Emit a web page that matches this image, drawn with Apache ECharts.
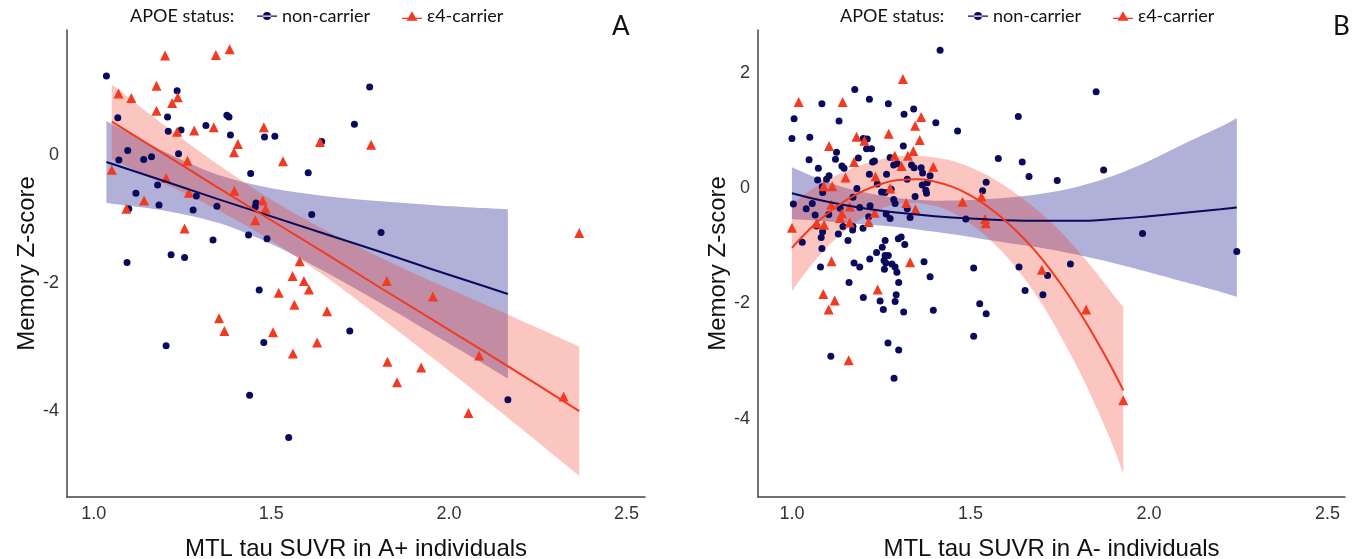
<!DOCTYPE html>
<html>
<head>
<meta charset="utf-8">
<script src="https://cdn.jsdelivr.net/npm/echarts@6.0.0/dist/echarts.min.js"></script>
<style>
  html, body { margin: 0; padding: 0; background: #fff; }
  #main { width: 1360px; height: 559px; }
</style>
</head>
<body>
<div id="main"></div>
<script>
// ---- data ----
// panel A (A+ individuals): [MTL tau SUVR, memory z]
var blueA = [
  [1.036,1.23],[1.235,1.00],[1.208,0.59],[1.375,0.62],[1.381,0.59],[1.068,0.58],[1.246,0.39],[1.210,0.37],
  [1.316,0.46],[1.385,0.31],[1.481,0.28],[1.510,0.29],[1.096,0.07],[1.071,-0.08],[1.141,-0.07],[1.163,-0.03],
  [1.239,0.02],[1.442,-0.29],[1.180,-0.47],[1.119,-0.60],[1.184,-0.78],[1.099,-0.84],[1.289,-0.64],[1.347,-0.80],
  [1.280,-0.86],[1.457,-0.75],[1.455,-0.81],[1.436,-1.25],[1.336,-1.33],[1.488,-1.31],[1.218,-1.56],[1.256,-1.60],
  [1.094,-1.68],[1.466,-2.11],[1.204,-2.98],[1.479,-2.93],[1.439,-3.75],[1.549,-4.41],[1.777,1.06],[1.734,0.48],
  [1.642,0.21],[1.604,-0.28],[1.614,-0.93],[1.809,-1.21],[1.721,-2.75],[2.166,-3.82]
];
var redA = [
  [1.201,1.55],[1.344,1.56],[1.383,1.65],[1.070,0.96],[1.106,0.89],[1.177,1.08],[1.237,0.90],[1.221,0.81],
  [1.177,0.69],[1.235,0.36],[1.283,0.38],[1.338,0.43],[1.479,0.43],[1.406,0.17],[1.395,0.04],[1.533,-0.10],
  [1.051,-0.23],[1.264,-0.09],[1.204,-0.36],[1.396,-0.56],[1.142,-0.71],[1.268,-0.59],[1.092,-0.84],[1.476,-0.71],
  [1.484,-0.84],[1.455,-1.02],[1.256,-1.15],[1.560,-1.89],[1.521,-2.15],[1.565,-2.34],[1.353,-2.55],[1.368,-2.75],
  [1.505,-2.77],[1.561,-3.10],[1.580,-1.66],[1.637,0.20],[1.781,0.16],[2.367,-1.22],[1.592,-1.97],[1.606,-2.10],
  [1.657,-2.44],[1.629,-2.93],[1.825,-1.97],[1.955,-2.21],[2.085,-3.13],[1.827,-3.23],[1.922,-3.32],[1.854,-3.55],
  [2.055,-4.03],[2.323,-3.77]
];
// linear fits with 95% bands, panel A
var fitBlueA_x  = [1.036, 1.2, 1.35, 1.5, 1.65, 1.8, 1.95, 2.1, 2.166];
var fitBlueA_y  = [-0.11, -0.41, -0.69, -0.96, -1.23, -1.50, -1.78, -2.05, -2.17];
var fitBlueA_hi = [0.53, 0.05, -0.31, -0.52, -0.64, -0.72, -0.78, -0.83, -0.85];
var fitBlueA_lo = [-0.75, -0.87, -1.06, -1.39, -1.82, -2.29, -2.78, -3.27, -3.49];
var fitRedA_x  = [1.051, 1.2, 1.35, 1.5, 1.65, 1.8, 1.95, 2.1, 2.25, 2.367];
var fitRedA_y  = [0.52, 0.01, -0.51, -1.02, -1.53, -2.05, -2.56, -3.07, -3.59, -4.00];
var fitRedA_hi = [1.10, 0.46, -0.15, -0.70, -1.17, -1.58, -1.97, -2.33, -2.70, -2.99];
var fitRedA_lo = [-0.07, -0.45, -0.86, -1.34, -1.89, -2.51, -3.15, -3.81, -4.48, -5.01];

// panel B (A- individuals)
var blueB = [
  [1.176,1.71],[1.084,1.46],[1.217,1.54],[1.270,1.46],[1.006,1.20],[1.132,1.16],[1.000,0.86],[1.050,0.88],
  [1.200,0.86],[1.211,0.85],[1.125,0.62],[1.209,0.68],[1.223,0.68],[1.048,0.49],[1.122,0.50],[1.186,0.52],
  [1.226,0.45],[1.231,0.47],[1.275,0.53],[1.074,0.34],[1.140,0.38],[1.146,0.34],[1.285,0.40],[1.295,0.42],
  [1.072,0.14],[1.097,0.15],[1.104,0.21],[1.265,0.24],[1.217,0.24],[1.085,0.02],[1.086,-0.08],[1.182,-0.01],
  [1.239,0.07],[1.251,-0.07],[1.261,-0.08],[1.278,-0.02],[1.171,-0.16],[1.285,-0.20],[1.289,-0.27],[1.004,-0.28],
  [1.057,-0.27],[1.040,-0.36],[1.135,-0.35],[1.219,-0.31],[1.190,-0.34],[1.065,-0.47],[1.103,-0.46],[1.264,-0.45],
  [1.275,-0.53],[1.215,-0.50],[1.143,-0.67],[1.171,-0.67],[1.199,-0.70],[1.086,-0.76],[1.082,-0.86],[1.029,-0.94],
  [1.084,-1.05],[1.130,-0.80],[1.170,-0.73],[1.157,-0.91],[1.261,-0.91],[1.253,-1.03],[1.237,-1.12],[1.261,-1.17],
  [1.270,-1.17],[1.218,-1.23],[1.258,-1.26],[1.263,-1.30],[1.280,-1.32],[1.289,-1.37],[1.259,-1.41],[1.294,-1.46],
  [1.174,-1.30],[1.190,-1.37],[1.080,-1.37],[1.160,-1.64],[1.299,-1.64],[1.200,-1.90],[1.247,-1.96],[1.289,-1.97],
  [1.256,-2.11],[1.292,-1.85],[1.269,-2.69],[1.299,-2.81],[1.109,-2.92],[1.286,-3.30],[1.415,2.39],[1.314,1.28],
  [1.341,1.37],[1.403,1.13],[1.464,0.99],[1.312,0.73],[1.578,0.51],[1.335,0.40],[1.342,0.35],[1.362,0.35],
  [1.366,0.26],[1.387,0.21],[1.379,0.09],[1.365,0.05],[1.375,-0.04],[1.377,-0.09],[1.323,0.15],[1.345,-0.15],
  [1.544,0.10],[1.534,-0.05],[1.323,-0.36],[1.331,-0.51],[1.487,-0.54],[1.298,-0.88],[1.306,-0.85],[1.316,-0.98],
  [1.370,-1.28],[1.387,-1.54],[1.313,-2.15],[1.396,-2.12],[1.509,-1.39],[1.526,-2.01],[1.544,-2.18],[1.509,-2.57],
  [1.852,1.67],[1.634,1.24],[1.645,0.45],[1.664,0.20],[1.743,0.13],[1.873,0.31],[1.982,-0.79],[2.246,-1.10],
  [1.636,-1.37],[1.716,-1.52],[1.780,-1.32],[1.653,-1.78],[1.703,-1.85],[1.069,-0.66]
];
var redB = [
  [1.019,1.49],[1.142,1.49],[1.271,0.94],[1.181,0.89],[1.203,0.82],[1.104,0.73],[1.288,0.56],[1.174,0.45],
  [1.150,0.18],[1.234,0.20],[1.089,0.03],[1.113,0.03],[1.275,-0.01],[1.110,-0.29],[1.162,-0.32],[1.140,-0.44],
  [1.135,-0.52],[1.232,-0.43],[1.069,-0.61],[1.090,-0.64],[1.162,-0.60],[1.000,-0.69],[1.215,-0.59],[1.111,-1.27],
  [1.088,-1.84],[1.120,-1.95],[1.103,-2.11],[1.240,-1.76],[1.159,-2.99],[1.311,1.89],[1.362,1.23],[1.345,1.08],
  [1.358,0.83],[1.340,0.64],[1.325,0.56],[1.307,0.38],[1.396,0.37],[1.320,-0.26],[1.346,-0.37],[1.478,-0.24],
  [1.531,-0.15],[1.541,-0.54],[1.543,-0.61],[1.331,-1.29],[1.700,-1.42],[1.824,-2.11],[1.928,-3.68]
];
// curved fits with 95% bands, panel B
var fitBlueB_x  = [1.0, 1.1, 1.2, 1.3, 1.4, 1.5, 1.6, 1.7, 1.8, 1.9, 2.0, 2.1, 2.2, 2.246];
var fitBlueB_y  = [-0.09, -0.24, -0.35, -0.43, -0.49, -0.53, -0.56, -0.57, -0.57, -0.54, -0.49, -0.43, -0.37, -0.34];
var fitBlueB_hi = [0.36, 0.10, -0.07, -0.18, -0.22, -0.21, -0.17, -0.10, 0.02, 0.21, 0.47, 0.77, 1.06, 1.21];
var fitBlueB_lo = [-0.54, -0.58, -0.63, -0.68, -0.76, -0.85, -0.95, -1.04, -1.16, -1.30, -1.46, -1.63, -1.80, -1.89];
var fitRedB_x  = [1.0, 1.05, 1.1, 1.15, 1.2, 1.25, 1.3, 1.35, 1.4, 1.45, 1.5, 1.55, 1.6, 1.65, 1.7, 1.75, 1.8, 1.85, 1.9, 1.928];
var fitRedB_y  = [-1.04, -0.71, -0.44, -0.22, -0.05, 0.07, 0.14, 0.15, 0.11, 0.02, -0.13, -0.33, -0.58, -0.88, -1.23, -1.64, -2.10, -2.61, -3.17, -3.51];
var fitRedB_hi = [-0.29, -0.05, 0.14, 0.29, 0.41, 0.50, 0.55, 0.56, 0.53, 0.47, 0.36, 0.21, 0.02, -0.20, -0.45, -0.74, -1.08, -1.45, -1.85, -2.06];
var fitRedB_lo = [-1.79, -1.37, -1.02, -0.73, -0.51, -0.36, -0.27, -0.26, -0.31, -0.43, -0.62, -0.87, -1.18, -1.56, -2.01, -2.54, -3.12, -3.77, -4.49, -4.96];

var groups = ['non-carrier', 'ε4-carrier'];

// ---- styling ----
var NAVY = '#0a0a5c';
var RED = '#f23a22';
var FONT = "'Liberation Sans', Arial, sans-serif";
var LEG_FONT = "Lato, 'Open Sans', sans-serif";
var iconDot = 'path://M0,4.5h20v1.2h-20z M6,5a4,4 0 1,0 8,0a4,4 0 1,0 -8,0z';
var iconTri = 'path://M0,6.6h20v1.2h-20z M10,0L15.5,9.5H4.5z';

var myChart = echarts.init(document.getElementById('main'));

function pairs(xs, ys) {
  return xs.map(function (x, i) { return [x, ys[i]]; });
}

// confidence band: upper edge out, lower edge back, closed with straight ends
function ribbon(idx, xs, lo, hi, color, smooth) {
  return {
    type: 'custom', xAxisIndex: idx, yAxisIndex: idx, silent: true,
    data: xs.map(function (x, i) { return [x, lo[i], hi[i]]; }),
    encode: { x: 0, y: [1, 2] },
    renderItem: function (params, api) {
      if (params.dataIndex !== 0) return;
      var top = [], bot = [];
      for (var i = 0; i < xs.length; i++) {
        top.push(api.coord([xs[i], hi[i]]));
        bot.push(api.coord([xs[i], lo[i]]));
      }
      var n = xs.length - 1;
      var d = 'M' + top[0][0] + ',' + top[0][1];
      d += curve(top);
      d += 'L' + bot[n][0] + ',' + bot[n][1];
      d += curve(bot.slice().reverse());
      d += 'Z';
      return { type: 'path', shape: { pathData: d }, style: { fill: color, stroke: null } };

      // catmull-rom style cubic segments (straight when smooth is 0)
      function curve(p) {
        var s = '';
        for (var k = 1; k < p.length; k++) {
          var p0 = p[Math.max(k - 2, 0)], p1 = p[k - 1], p2 = p[k], p3 = p[Math.min(k + 1, p.length - 1)];
          var c1 = [p1[0] + (p2[0] - p0[0]) * smooth, p1[1] + (p2[1] - p0[1]) * smooth];
          var c2 = [p2[0] - (p3[0] - p1[0]) * smooth, p2[1] - (p3[1] - p1[1]) * smooth];
          s += 'C' + c1[0] + ',' + c1[1] + ' ' + c2[0] + ',' + c2[1] + ' ' + p2[0] + ',' + p2[1];
        }
        return s;
      }
    }
  };
}

function fitLine(idx, xs, ys, color, smooth) {
  return {
    type: 'line', xAxisIndex: idx, yAxisIndex: idx, data: pairs(xs, ys), symbol: 'none',
    smooth: smooth, silent: true, lineStyle: { color: color, width: 2 }
  };
}

function scatter(idx, name, data, color, symbol, size) {
  return {
    name: name, type: 'scatter', xAxisIndex: idx, yAxisIndex: idx, data: data,
    symbol: symbol, symbolSize: size, itemStyle: { color: color, opacity: 1 }
  };
}

function xAx(idx, min, max, title) {
  return {
    gridIndex: idx, type: 'value', min: min, max: max, splitNumber: 3,
    splitLine: { show: false }, axisTick: { show: false },
    axisLine: { onZero: false, lineStyle: { color: '#444', width: 1.5 } },
    axisLabel: { showMinLabel: false, showMaxLabel: false, color: '#333', fontSize: 18, fontFamily: FONT, margin: 8,
      formatter: function (v) { return v.toFixed(1); } },
    name: title, nameLocation: 'middle', nameGap: 40,
    nameTextStyle: { fontSize: 24, color: '#111', fontFamily: FONT }
  };
}

function yAx(idx, min, max) {
  return {
    gridIndex: idx, type: 'value', min: min, max: max, splitNumber: 4,
    splitLine: { show: false }, axisTick: { show: false },
    axisLine: { onZero: false, lineStyle: { color: '#444', width: 1.5 } },
    axisLabel: { showMinLabel: false, showMaxLabel: false, color: '#333', fontSize: 18, fontFamily: FONT, margin: 8 },
    name: 'Memory Z-score', nameLocation: 'middle', nameGap: 28,
    nameTextStyle: { fontSize: 24, color: '#111', fontFamily: FONT }
  };
}

function legendAt(left) {
  return {
    left: left, top: 7, padding: 0, itemWidth: 20, itemHeight: 10, itemGap: 32,
    textStyle: { fontSize: 18, color: '#111', fontFamily: LEG_FONT },
    data: [{ name: groups[0], icon: iconDot }, { name: groups[1], icon: iconTri }],
    selectedMode: false
  };
}

var option = {
  animation: false,
  backgroundColor: '#fff',
  title: [
    { text: 'APOE status:', left: 130, top: 7, padding: 0, textStyle: { fontSize: 18, fontWeight: 'normal', color: '#111', fontFamily: LEG_FONT } },
    { text: 'APOE status:', left: 840, top: 7, padding: 0, textStyle: { fontSize: 18, fontWeight: 'normal', color: '#111', fontFamily: LEG_FONT } },
    { text: 'A', left: 612, top: 14, padding: 0, textStyle: { fontSize: 26, fontWeight: 'normal', color: '#111', fontFamily: LEG_FONT } },
    { text: 'B', left: 1333, top: 14, padding: 0, textStyle: { fontSize: 26, fontWeight: 'normal', color: '#111', fontFamily: LEG_FONT } }
  ],
  legend: [legendAt(257), legendAt(968)],
  grid: [
    { left: 67, top: 30, width: 578, height: 467, outerBoundsMode: 'none', containLabel: false },
    { left: 758, top: 30, width: 587, height: 467, outerBoundsMode: 'none', containLabel: false }
  ],
  xAxis: [
    xAx(0, 0.925, 2.552, 'MTL tau SUVR in A+ individuals'),
    xAx(1, 0.905, 2.549, 'MTL tau SUVR in A- individuals')
  ],
  yAxis: [yAx(0, -5.34, 1.95), yAx(1, -5.36, 2.74)],
  series: [].concat(
    scatter(0, groups[0], blueA, NAVY, 'circle', 7),
    scatter(0, groups[1], redA, RED, 'triangle', 10),
    ribbon(0, fitBlueA_x, fitBlueA_lo, fitBlueA_hi, 'rgba(0,0,128,0.31)', 0.16),
    ribbon(0, fitRedA_x, fitRedA_lo, fitRedA_hi, 'rgba(240,50,30,0.28)', 0.16),
    fitLine(0, fitBlueA_x, fitBlueA_y, NAVY, false),
    fitLine(0, fitRedA_x, fitRedA_y, RED, false),
    scatter(1, groups[0], blueB, NAVY, 'circle', 7),
    scatter(1, groups[1], redB, RED, 'triangle', 10),
    ribbon(1, fitBlueB_x, fitBlueB_lo, fitBlueB_hi, 'rgba(0,0,128,0.31)', 0.16),
    ribbon(1, fitRedB_x, fitRedB_lo, fitRedB_hi, 'rgba(240,50,30,0.28)', 0.16),
    fitLine(1, fitBlueB_x, fitBlueB_y, NAVY, true),
    fitLine(1, fitRedB_x, fitRedB_y, RED, true)
  )
};

myChart.setOption(option);
window.addEventListener('resize', function () {
  myChart.resize();
});
</script>
</body>
</html>
